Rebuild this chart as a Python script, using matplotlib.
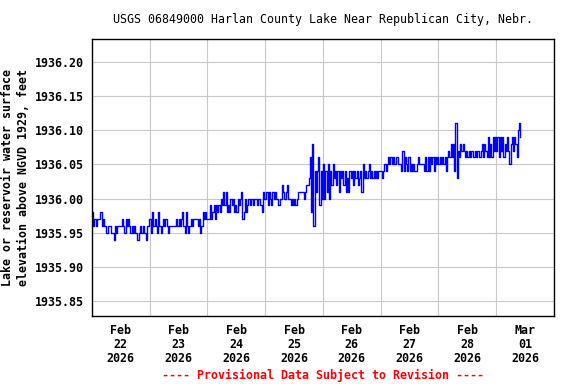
import matplotlib
matplotlib.use('Agg')
import matplotlib.pyplot as plt
import matplotlib.dates as mdates
import numpy as np
import pandas as pd

# gage height readings every 30 minutes, hundredths of a foot above 1935.00 ft
feb22 = [98, 96, 97, 96, 97, 97, 97, 98, 96, 97, 96, 96, 95, 96, 96, 96,
         95, 95, 94, 96, 95, 96, 96, 96, 96, 97, 96, 95, 97, 96, 97, 96,
         95, 96, 95, 96, 95, 94, 94, 95, 96, 95, 96, 95, 95, 94, 96, 97]
feb23 = [97, 95, 98, 96, 97, 96, 95, 98, 96, 95, 96, 97, 96, 97, 96, 95,
         96, 96, 96, 96, 96, 96, 97, 96, 97, 96, 97, 98, 96, 95, 98, 96,
         95, 96, 97, 96, 97, 97, 97, 97, 96, 97, 95, 96, 98, 97, 98, 97]
feb24 = [97, 97, 99, 97, 98, 99, 97, 99, 98, 99, 98, 100, 99, 101, 99, 101,
         98, 99, 98, 100, 99, 100, 98, 99, 98, 100, 99, 100, 101, 97, 98, 100,
         98, 99, 100, 99, 100, 100, 99, 100, 100, 99, 100, 100, 99, 98, 101, 100]
feb25 = [100, 101, 99, 101, 100, 99, 101, 100, 101, 100, 100, 99, 100, 100, 102, 101,
         100, 101, 102, 100, 100, 99, 100, 99, 100, 99, 100, 101, 101, 101, 101, 101,
         100, 101, 102, 102, 103, 106, 98, 108, 96, 104, 101, 104, 106, 99, 104, 100]
feb26 = [105, 100, 104, 101, 105, 100, 104, 102, 105, 103, 104, 102, 104, 101, 104, 103,
         104, 102, 104, 101, 103, 101, 104, 103, 104, 102, 104, 103, 104, 102, 103, 104,
         101, 105, 103, 104, 103, 104, 105, 103, 104, 103, 104, 103, 104, 103, 104, 104]
feb27 = [104, 103, 104, 105, 104, 105, 106, 105, 106, 105, 106, 105, 105, 106, 105, 105,
         105, 104, 107, 104, 106, 105, 104, 106, 104, 105, 104, 105, 104, 104, 105, 106,
         105, 105, 105, 105, 104, 106, 104, 106, 104, 106, 105, 106, 104, 106, 105, 106]
feb28 = [105, 106, 105, 106, 105, 106, 104, 106, 107, 106, 108, 106, 108, 104, 111, 103,
         107, 106, 108, 107, 108, 107, 106, 107, 106, 107, 106, 107, 107, 106, 107, 106,
         107, 107, 106, 107, 108, 106, 108, 107, 106, 109, 106, 108, 106, 109, 107, 109]
mar01 = [107, 109, 106, 109, 107, 109, 106, 108, 107, 109, 107, 105, 108, 109, 107, 109,
         108, 106, 110, 111, 109]

readings = feb22 + feb23 + feb24 + feb25 + feb26 + feb27 + feb28 + mar01
elev = 1935.0 + np.array(readings) / 100.0
times = pd.date_range('2026-02-22 00:00', periods=len(readings), freq='30min')

title = 'USGS 06849000 Harlan County Lake Near Republican City, Nebr.'
ylabel = 'Lake or reservoir water surface\nelevation above NGVD 1929, feet'
note = '---- Provisional Data Subject to Revision ----'
yticks = [1935.85, 1935.90, 1935.95, 1936.00, 1936.05, 1936.10, 1936.15, 1936.20]

mono = 'DejaVu Sans Mono'

fig = plt.figure(figsize=(5.76, 3.84), dpi=100)
ax = fig.add_axes([0.1597, 0.1771, 0.8021, 0.7213])

ax.plot(times, elev, color='#0000FF', lw=1.0, drawstyle='steps-post')

ax.set_xlim(pd.Timestamp('2026-02-22'), pd.Timestamp('2026-03-02'))
ax.set_ylim(1935.8285, 1936.233)
ax.set_yticks(yticks)
ax.set_yticklabels(['%.2f' % v for v in yticks], family=mono, weight='bold', fontsize=8.4)

ax.xaxis.set_major_locator(mdates.DayLocator())
ax.xaxis.set_major_formatter(plt.NullFormatter())
ax.xaxis.set_minor_locator(mdates.HourLocator(byhour=12))
ax.xaxis.set_minor_formatter(mdates.DateFormatter('%b\n%d\n%Y'))
ax.tick_params(axis='x', which='both', length=0)
ax.tick_params(axis='x', which='minor', pad=6, labelsize=8.4)
ax.tick_params(axis='y', length=0, pad=6)
for lab in ax.get_xticklabels(minor=True):
    lab.set_family(mono)
    lab.set_weight('bold')
    lab.set_linespacing(1.1)

ax.grid(True, which='major', color='#C8C8C8', lw=0.8)
ax.set_axisbelow(True)
for s in ax.spines.values():
    s.set_color('black')
    s.set_linewidth(1.0)

ax.set_ylabel(ylabel, family=mono, weight='bold', fontsize=8.4, linespacing=1.3)
ax.yaxis.set_label_coords(-0.134, 0.5)
fig.text(0.5608, 0.95, title, ha='center', va='center', family=mono, fontsize=8.4)
fig.text(0.5608, 0.023, note, ha='center', va='center', family=mono, weight='bold',
         fontsize=8.4, color='#FF0000')

fig.savefig('out.png', dpi=100)
